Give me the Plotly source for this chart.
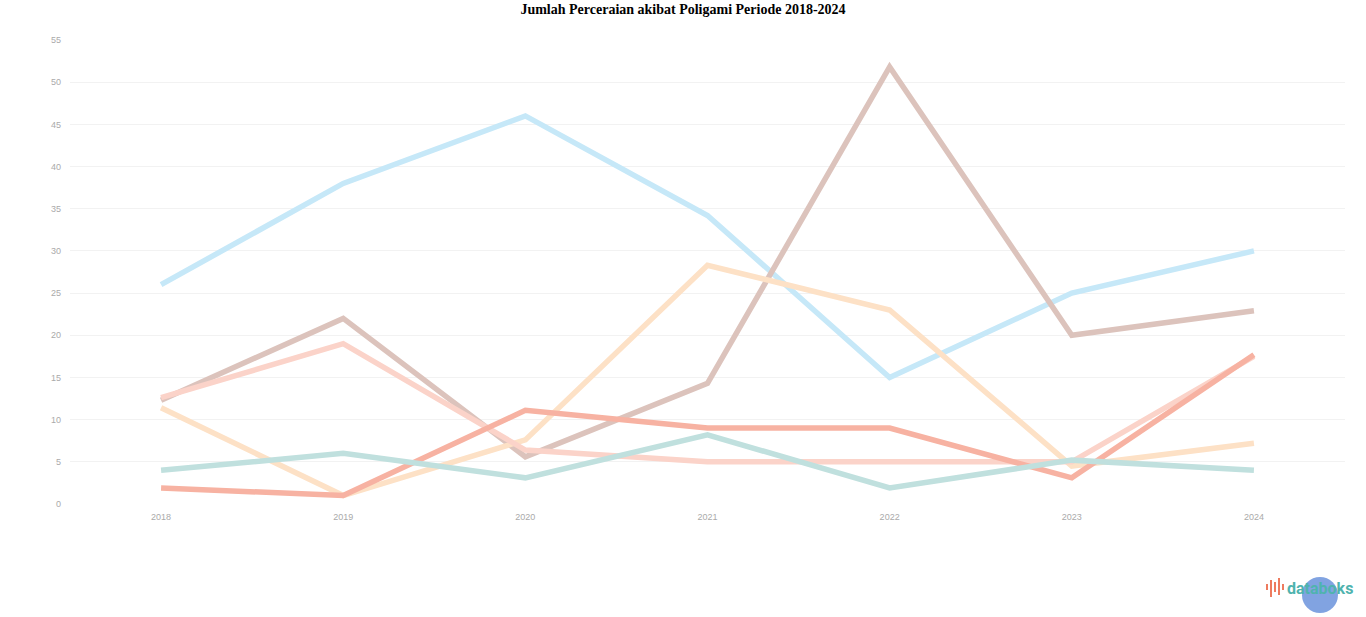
import plotly.graph_objects as go

years = ["2018", "2019", "2020", "2021", "2022", "2023", "2024"]
y_ticks = [0, 5, 10, 15, 20, 25, 30, 35, 40, 45, 50, 55]

series_names = ["Seri 1", "Seri 2", "Seri 3", "Seri 4", "Seri 5", "Seri 6"]
seri_1 = [26, 38, 46, 34.2, 15, 25, 30]
seri_2 = [12.3, 22, 5.6, 14.3, 51.8, 20, 22.9]
seri_3 = [11.4, 1, 7.6, 28.3, 23, 4.5, 7.2]
seri_4 = [12.6, 19, 6.4, 5, 5, 5, 17.5]
seri_5 = [1.9, 1, 11.1, 9, 9, 3.1, 17.7]
seri_6 = [4, 6, 3.1, 8.2, 1.9, 5.2, 4]

colors = ["#c6e8f8", "#dcc3bc", "#fde1c6", "#fbd3c9", "#f7b2a2", "#c0e0de"]

fig = go.Figure()
for name, vals, c in zip(series_names, [seri_1, seri_2, seri_3, seri_4, seri_5, seri_6], colors):
    fig.add_trace(go.Scatter(x=years, y=vals, name=name, mode="lines",
                             line=dict(color=c, width=5.5), showlegend=False))

fig.update_layout(
    width=1366, height=617,
    paper_bgcolor="white", plot_bgcolor="white",
    margin=dict(l=70, r=21, t=40, b=113),
    title=dict(text="<b>Jumlah Perceraian akibat Poligami Periode 2018-2024</b>",
               x=0.5, xanchor="center", y=0.993, yanchor="top",
               font=dict(family="Liberation Serif", size=14, color="#000")),
    xaxis=dict(type="category", range=[-0.5, 6.5], showgrid=False, zeroline=False,
               showline=False, ticks="", tickfont=dict(size=9, color="#aaaaaa"),
               ticklabelstandoff=6),
    yaxis=dict(range=[0, 55], tickvals=y_ticks, showgrid=True, gridcolor="#f2f2f2",
               gridwidth=1, zeroline=False, showline=False, ticks="",
               tickfont=dict(size=9, color="#aaaaaa"), ticklabelstandoff=8),
    font=dict(family="Liberation Sans"),
)

# databoks logo
fig.add_shape(type="circle", xref="paper", yref="paper",
              x0=(1302 - 70) / 1275, x1=(1338 - 70) / 1275,
              y0=(504 - 613) / 464, y1=(504 - 577) / 464,
              fillcolor="#6b93dc", line=dict(width=0), opacity=0.85, layer="above")
bar_xs = [1266, 1270, 1274, 1278, 1282]
bar_tops = [584, 580, 582, 578, 584]
bar_bots = [590, 597, 592, 595, 590]
for bx, bt, bb in zip(bar_xs, bar_tops, bar_bots):
    fig.add_shape(type="rect", xref="paper", yref="paper",
                  x0=(bx - 70) / 1275, x1=(bx + 2 - 70) / 1275,
                  y0=(504 - bb) / 464, y1=(504 - bt) / 464,
                  fillcolor="#ee7b5f", line=dict(width=0))
fig.add_annotation(text="<b>databoks</b>", xref="paper", yref="paper",
                   x=(1285 - 70) / 1275, y=(504 - 588) / 464, xanchor="left", yanchor="middle",
                   showarrow=False, font=dict(family="Roboto", size=16, color="#4fb3ae"))

fig.write_html("out.html", config={"displayModeBar": False},
               post_script="document.body.style.margin='0';document.body.style.overflow='hidden';")
